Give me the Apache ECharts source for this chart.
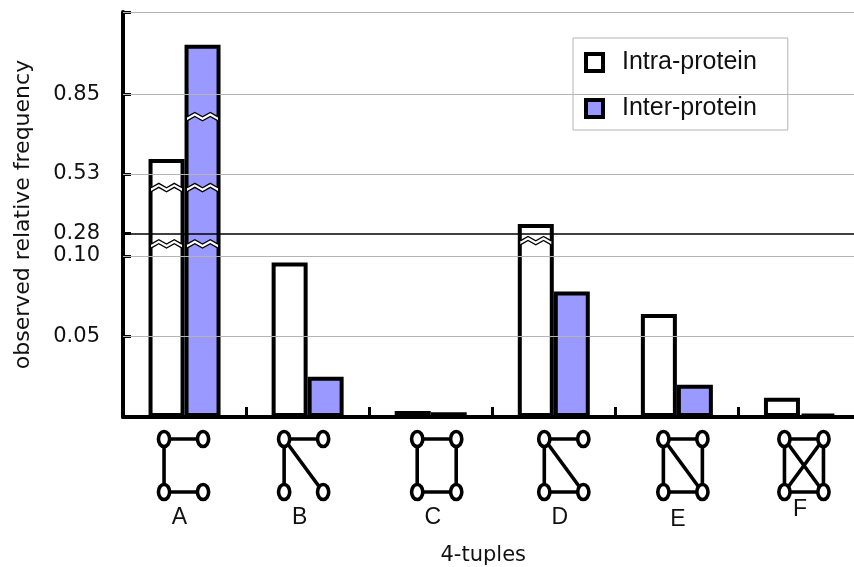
<!DOCTYPE html>
<html>
<head>
<meta charset="utf-8">
<script src="https://cdn.jsdelivr.net/npm/echarts@6/dist/echarts.min.js"></script>
<style>
  html, body { margin: 0; padding: 0; background: #fff; }
  #chart { width: 854px; height: 567px; }
</style>
</head>
<body>
<div id="chart"></div>
<script>
// Four-node motifs (4-tuples) and their observed relative frequencies
const categories = ['A', 'B', 'C', 'D', 'E', 'F'];
const intraProtein = [0.59, 0.096, 0.0037, 0.32, 0.064, 0.012];
const interProtein = [0.94, 0.025, 0.0029, 0.078, 0.020, 0.002];

// Value-axis tick labels
const tickValues = [0.05, 0.10, 0.28, 0.53, 0.85];
const tickLabels = ['0.05', '0.10', '0.28', '0.53', '0.85'];

// Horizontal reference lines
const gridValues = [0.05, 0.10, 0.53, 0.85, 1.00];
const referenceValue = 0.28;

// Edges of each motif; nodes: 0 top-left, 1 top-right, 2 bottom-left, 3 bottom-right
const motifEdges = {
  A: [[0, 1], [0, 2], [2, 3]],
  B: [[0, 1], [0, 2], [0, 3]],
  C: [[0, 1], [1, 3], [3, 2], [2, 0]],
  D: [[0, 1], [0, 2], [0, 3], [2, 3]],
  E: [[0, 1], [0, 2], [1, 3], [2, 3], [0, 3]],
  F: [[0, 1], [0, 2], [0, 3], [1, 2], [1, 3], [2, 3]]
};

// Broken value axis: every stop value is pinned to a slot on the drawn axis,
// values in between are placed linearly inside their segment.
const axisStops = [0, 0.05, 0.10, 0.28, 0.53, 0.85, 1.00];
const axisSlots = [0, 1, 2, 2.28, 3.02, 4.01, 5.03];

function toAxis(v) {
  for (let i = 1; i < axisStops.length; i++) {
    if (v <= axisStops[i]) {
      const t = (v - axisStops[i - 1]) / (axisStops[i] - axisStops[i - 1]);
      return axisSlots[i - 1] + t * (axisSlots[i] - axisSlots[i - 1]);
    }
  }
  return axisSlots[axisSlots.length - 1];
}
const axisTop = axisSlots[axisSlots.length - 1];

// Zig-zag break symbols on the truncated bars (category, bar 0/1, slot on the axis)
const axisBreaks = [
  { cat: 0, bar: 0, at: 2.15 }, { cat: 0, bar: 0, at: 2.85 },
  { cat: 0, bar: 1, at: 2.15 }, { cat: 0, bar: 1, at: 2.85 }, { cat: 0, bar: 1, at: 3.73 },
  { cat: 3, bar: 0, at: 2.19 }
];

// Small horizontal/vertical nudges for the motif drawings and their letters
const motifNudge = {
  A: { dx: -1, lx: -5, ly: 0 },
  B: { dx: -4, lx: -8, ly: 0 },
  C: { dx: 6, lx: 2, ly: 0 },
  D: { dx: 10, lx: 6, ly: 0 },
  E: { dx: 6, lx: 1, ly: 2 },
  F: { dx: 4, lx: 0, ly: -8 }
};

const BAR_W = 36;
const INK = '#111';

function labelFor(val) {
  const i = tickValues.findIndex(t => Math.abs(toAxis(t) - val) < 1e-6);
  return i >= 0 ? tickLabels[i] : '';
}

function renderBreak(params, api) {
  const b = axisBreaks[params.dataIndex];
  const c = api.coord([b.cat, b.at]);
  const x0 = b.bar === 0 ? c[0] - BAR_W + 2.5 : c[0] + 2.5;
  const w = BAR_W - 5;
  const amp = 2.2, gap = 4;
  const fr = [0, 0.25, 0.5, 0.75, 1];
  const sg = [1, -1, 1, -1, 1];
  const upper = fr.map((f, i) => [x0 + f * w, c[1] - gap / 2 + sg[i] * amp]);
  const lower = fr.map((f, i) => [x0 + f * w, c[1] + gap / 2 + sg[i] * amp]);
  return {
    type: 'group',
    children: [
      { type: 'polygon', shape: { points: upper.concat(lower.slice().reverse()) }, style: { fill: '#fff' } },
      { type: 'polyline', shape: { points: upper }, style: { stroke: '#000', lineWidth: 1.3, fill: null } },
      { type: 'polyline', shape: { points: lower }, style: { stroke: '#000', lineWidth: 1.3, fill: null } }
    ]
  };
}

function renderMotif(params, api) {
  const i = params.dataIndex;
  const cat = categories[i];
  const base = api.coord([i, 0]);
  const n = motifNudge[cat];
  const cx = base[0] + n.dx;
  const top = base[1] + 22, bot = base[1] + 75, half = 19.5;
  const nodes = [[cx - half, top], [cx + half, top], [cx - half, bot], [cx + half, bot]];
  const children = [];
  motifEdges[cat].forEach(e => {
    children.push({
      type: 'line',
      shape: { x1: nodes[e[0]][0], y1: nodes[e[0]][1], x2: nodes[e[1]][0], y2: nodes[e[1]][1] },
      style: { stroke: '#000', lineWidth: 3.6 }
    });
  });
  nodes.forEach(p => {
    children.push({
      type: 'ellipse',
      shape: { cx: p[0], cy: p[1], rx: 5.6, ry: 7.5 },
      style: { fill: '#fff', stroke: '#000', lineWidth: 3.6 }
    });
  });
  children.push({
    type: 'text',
    x: base[0] + n.lx,
    y: base[1] + 101 + n.ly,
    style: {
      text: cat, fill: INK, fontSize: 23, fontFamily: '"Liberation Sans", Arial, sans-serif',
      align: 'center', verticalAlign: 'middle', textAlign: 'center', textVerticalAlign: 'middle'
    }
  });
  return { type: 'group', children };
}

const chart = echarts.init(document.getElementById('chart'), null, { renderer: 'canvas' });

chart.setOption({
  animation: false,
  backgroundColor: '#fff',
  textStyle: { fontFamily: '"Liberation Sans", Arial, sans-serif', color: INK },
  grid: { left: 123, top: 12, height: 405, width: 738.5, containLabel: false, outerBoundsMode: 'none' },
  legend: {
    data: ['Intra-protein', 'Inter-protein'],
    orient: 'vertical',
    left: 573, top: 38,
    icon: 'rect', itemWidth: 17, itemHeight: 17, itemGap: 21,
    padding: [12, 31, 9, 11],
    borderColor: '#b4b4b4', borderWidth: 1, backgroundColor: '#fff',
    selectedMode: false,
    itemStyle: { borderColor: '#000', borderWidth: 4 },
    textStyle: { fontSize: 25, color: INK, fontFamily: '"Liberation Sans", Arial, sans-serif', padding: [0, 0, 0, 14] }
  },
  xAxis: {
    type: 'category',
    data: categories,
    axisLine: { show: true, lineStyle: { color: '#000', width: 4 } },
    axisTick: { show: true, inside: true, length: 10, interval: 0, lineStyle: { color: '#000', width: 3 } },
    axisLabel: { show: false },
    splitLine: { show: false },
    name: '4-tuples',
    nameLocation: 'middle',
    nameGap: 128,
    nameTextStyle: { fontFamily: '"DejaVu Sans", sans-serif', fontSize: 21, color: INK, padding: [0, 18, 0, 0] }
  },
  yAxis: {
    type: 'value',
    min: 0, max: axisTop,
    axisLine: { show: true, lineStyle: { color: '#000', width: 4 } },
    axisTick: {
      show: true, inside: true, length: 8,
      lineStyle: { color: '#000', width: 3 },
      customValues: tickValues.map(toAxis).concat([axisTop])
    },
    axisLabel: {
      customValues: tickValues.map(toAxis),
      formatter: labelFor,
      fontFamily: '"DejaVu Sans", sans-serif', fontSize: 21, color: INK, margin: 23
    },
    splitLine: { show: false },
    name: 'observed relative frequency',
    nameLocation: 'middle',
    nameGap: 89,
    nameTextStyle: { fontFamily: '"DejaVu Sans", sans-serif', fontSize: 22, color: INK }
  },
  series: [
    {
      name: 'reference lines',
      type: 'line',
      data: [],
      z: 1,
      silent: true,
      markLine: {
        silent: true,
        symbol: 'none',
        label: { show: false },
        data: gridValues.map(v => ({ yAxis: toAxis(v), lineStyle: { color: '#b4b4b4', width: 1, type: 'solid' } }))
          .concat([{ yAxis: toAxis(referenceValue), lineStyle: { color: '#000', width: 1.6, type: 'solid' } }])
      }
    },
    {
      name: 'Intra-protein',
      type: 'bar',
      data: intraProtein.map(toAxis),
      barWidth: BAR_W,
      barGap: '0%',
      z: 2,
      itemStyle: { color: '#ffffff', borderColor: '#000', borderWidth: 4 }
    },
    {
      name: 'Inter-protein',
      type: 'bar',
      data: interProtein.map(toAxis),
      barWidth: BAR_W,
      barGap: '0%',
      z: 2,
      itemStyle: { color: '#9999ff', borderColor: '#000', borderWidth: 4 }
    },
    {
      name: 'breaks',
      type: 'custom',
      z: 3,
      silent: true,
      clip: false,
      data: axisBreaks.map(b => [b.cat, b.at]),
      renderItem: renderBreak
    },
    {
      name: 'motifs',
      type: 'custom',
      z: 3,
      silent: true,
      clip: false,
      data: categories.map((c, i) => [i, 0]),
      renderItem: renderMotif
    }
  ]
});
</script>
</body>
</html>
